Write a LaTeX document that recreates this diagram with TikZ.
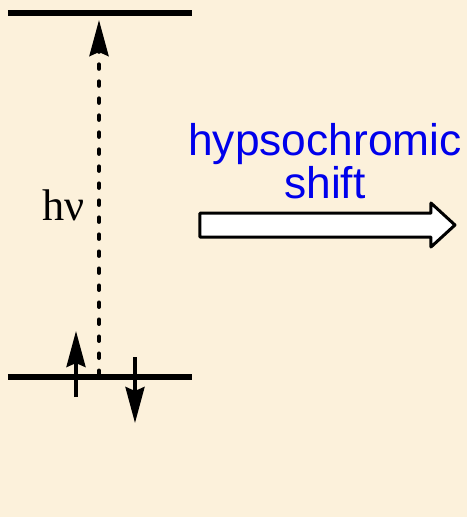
\documentclass[tikz,border=0pt]{standalone}
\usepackage{fontspec}
\usepackage{tikz}
\usetikzlibrary{positioning,arrows.meta}
\newfontfamily\arialfont{Liberation Sans}
\newfontfamily\timesfont{Liberation Serif}
\definecolor{paper}{RGB}{252,241,219}
\definecolor{shiftblue}{RGB}{0,0,235}

\begin{document}
\begin{tikzpicture}[x=0.01cm,y=-0.01cm,
    level/.style={line width=0.06cm},
    tip/.style={-{Stealth[length=0.36cm,width=0.19cm,inset=0.04cm]}},
    spin/.style={tip,line width=0.035cm},
    excite/.style={tip,line width=0.04cm,line cap=round,dash pattern=on 0.045cm off 0.125cm},
    shiftlabel/.style={text=shiftblue,font=\arialfont\fontsize{12.6}{12.6}\selectfont,inner sep=0pt,anchor=base},
    blockarrow/.style={draw,fill=white,line width=0.03cm,line join=round}]
  % background
  \fill[paper] (0,0) rectangle (467,517);
  \useasboundingbox (0,0) rectangle (467,517);

  % energy levels
  \coordinate (L1) at (8,13);
  \coordinate (L2) at (192,13);
  \coordinate (H1) at (8,377);
  \coordinate (H2) at (192,377);
  \draw[level] (L1)--(L2);
  \draw[level] (H1)--(H2);

  % excitation
  \coordinate (E0) at (99,375);
  \coordinate (E1) at (99,20);
  \draw[excite] (E0)--(E1);
  \node[font=\timesfont\fontsize{12.6}{12.6}\selectfont,inner sep=0pt,anchor=base west]
    (hnu) at (42,220) {hν};

  % electrons
  \coordinate (up0) at (76,397);
  \coordinate (up1) at (76,331);
  \coordinate (dn0) at (135,357);
  \coordinate (dn1) at (135,423);
  \draw[spin] (up0)--(up1);
  \draw[spin] (dn0)--(dn1);

  % shift
  \node[shiftlabel] (hyp) at (325,155) {hypsochromic};
  \node[shiftlabel] (shift) at (325,198) {shift};
  \draw[blockarrow] (200,213)--(431,213)--(431,203)--(455,225)--(431,247)
    --(431,237)--(200,237)--cycle;
\end{tikzpicture}
\end{document}
